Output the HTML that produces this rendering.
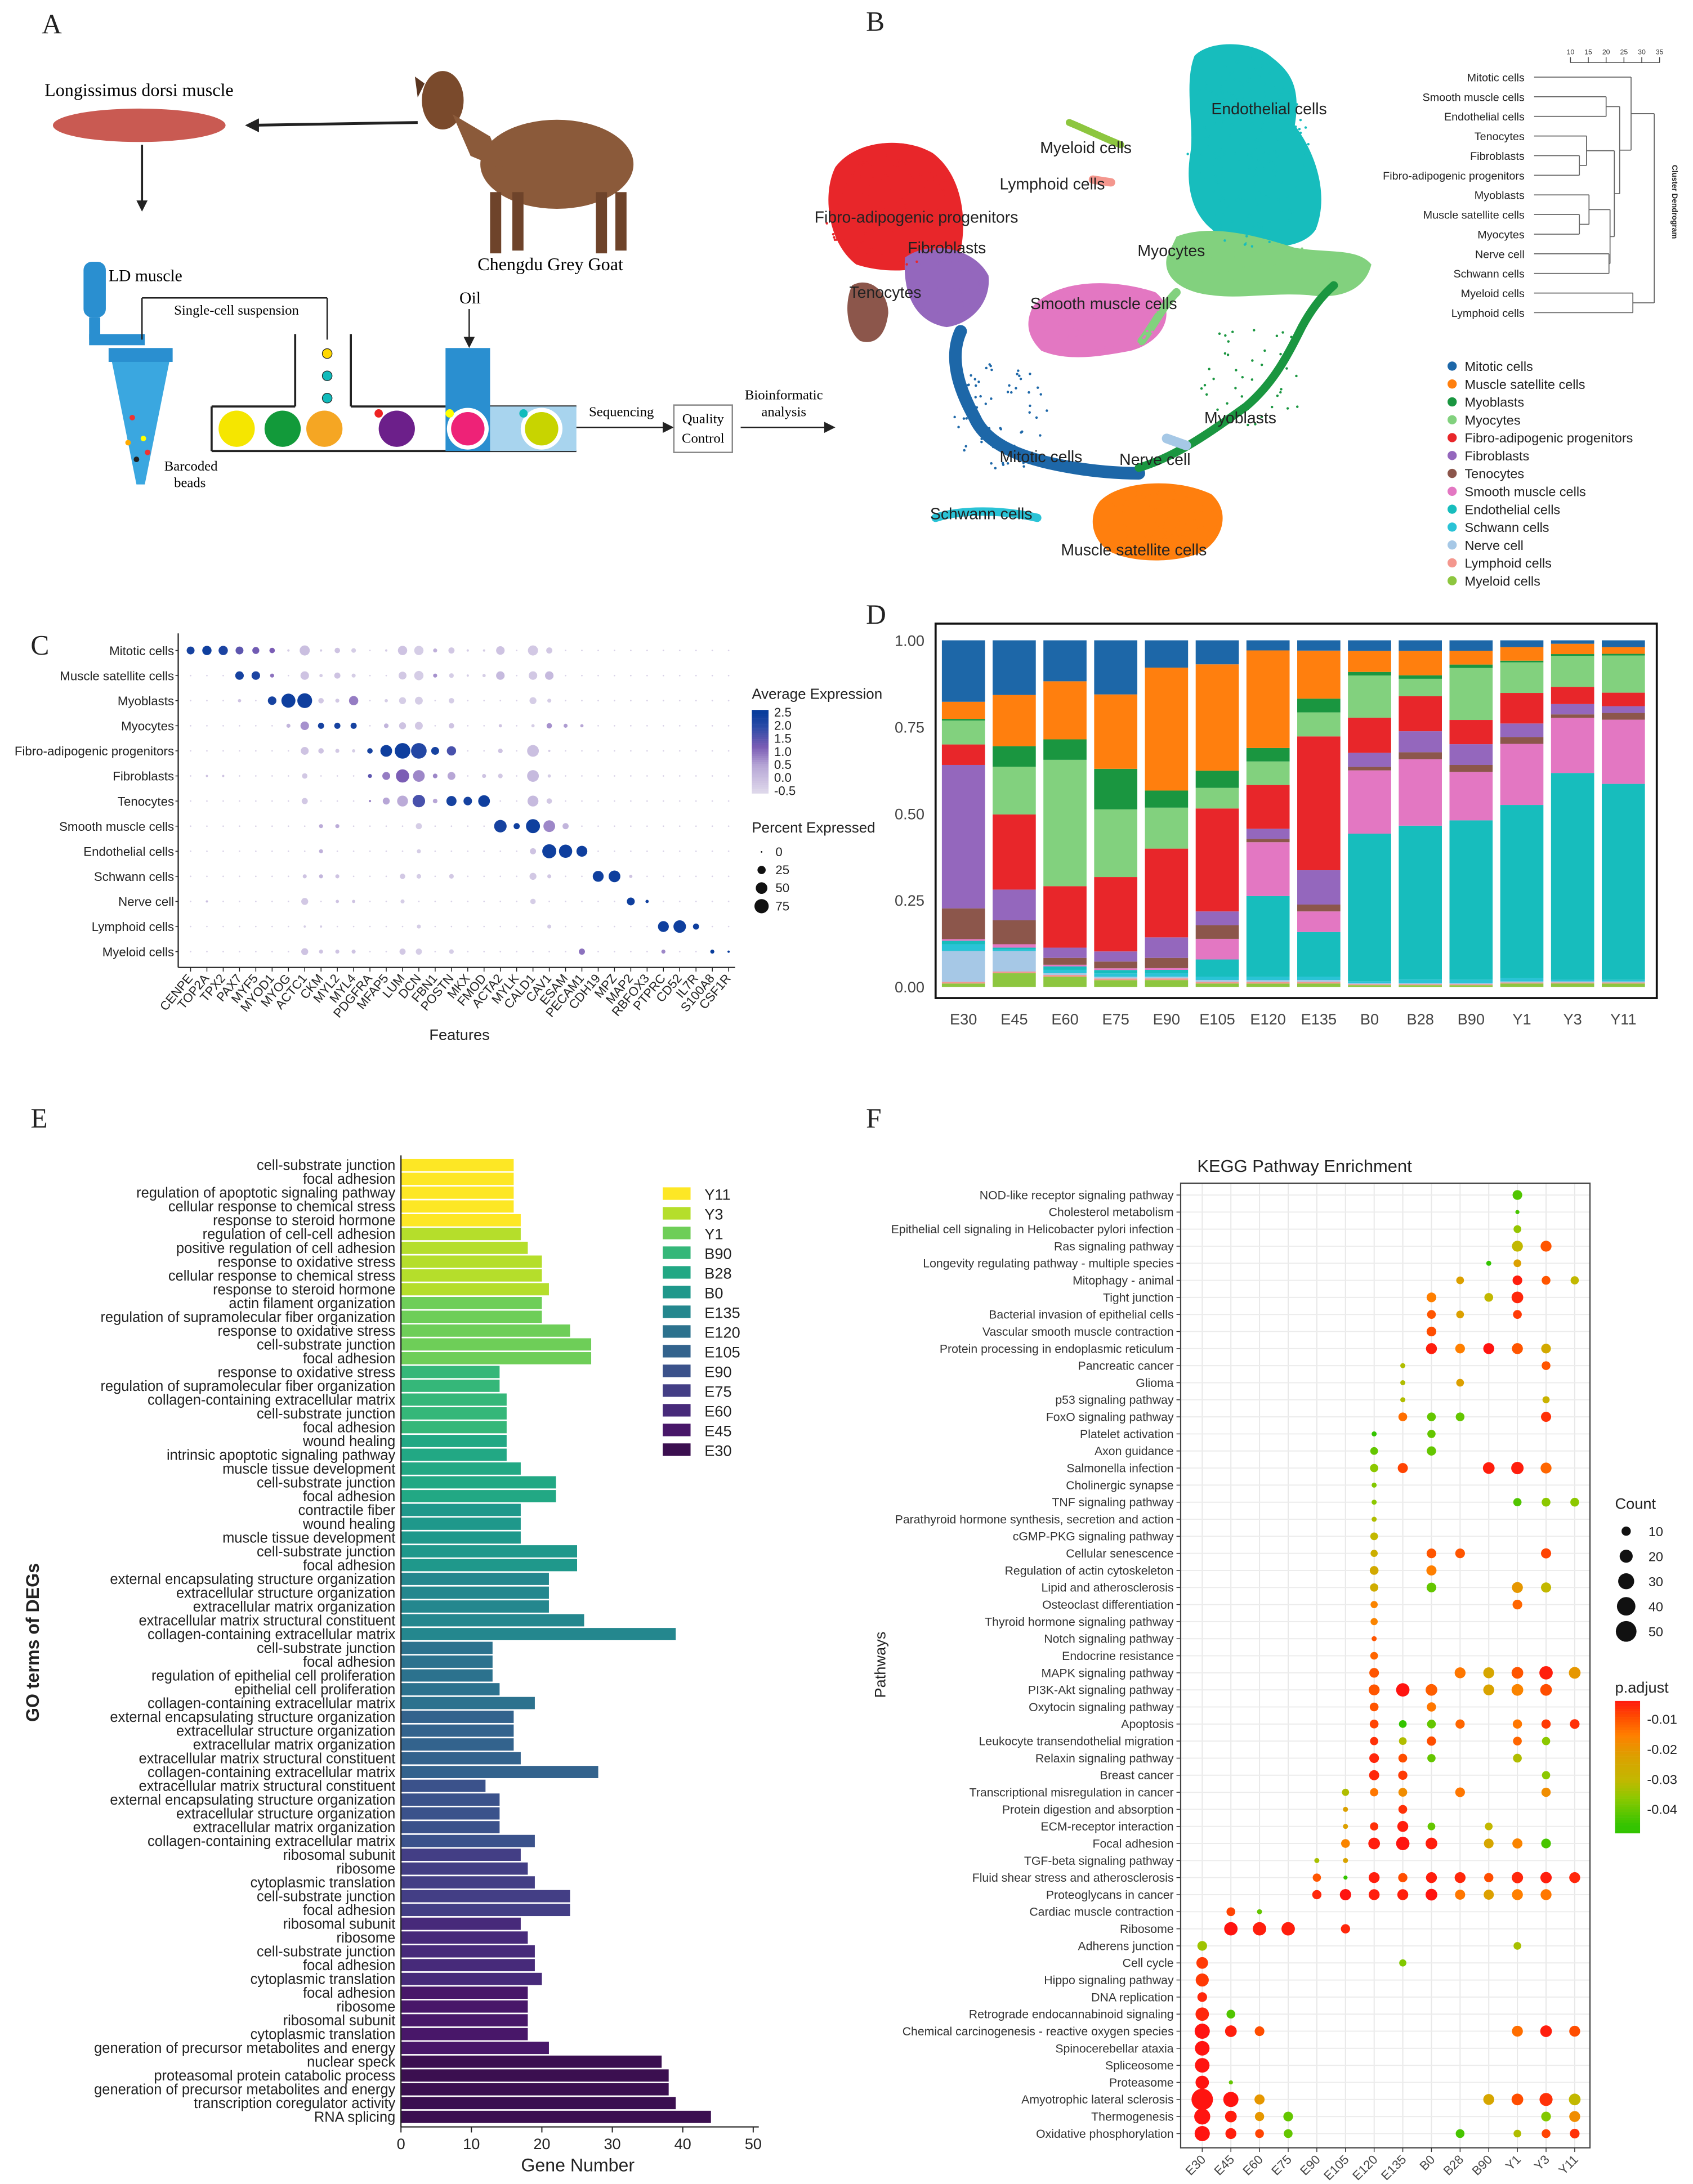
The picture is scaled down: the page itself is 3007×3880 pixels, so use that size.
<!DOCTYPE html>
<html><head><meta charset="utf-8">
<style>
html,body{margin:0;padding:0;background:#fff;}
svg{display:block;}
text{font-family:"Liberation Sans",sans-serif;}
</style></head>
<body>
<svg id="fig" xmlns="http://www.w3.org/2000/svg" width="3007" height="3880" viewBox="0 0 1216 1569">
<rect x="0" y="0" width="1216" height="1569" fill="#fff"/>
<g font-family="Liberation Serif,serif" font-size="20" fill="#222">
<text x="30" y="24" style="font-family:'Liberation Serif',serif">A</text>
<text x="622" y="22" style="font-family:'Liberation Serif',serif">B</text>
<text x="22" y="470" style="font-family:'Liberation Serif',serif">C</text>
<text x="622" y="448" style="font-family:'Liberation Serif',serif">D</text>
<text x="22" y="810" style="font-family:'Liberation Serif',serif">E</text>
<text x="622" y="810" style="font-family:'Liberation Serif',serif">F</text>
</g>
<g>
<text x="32" y="69" font-size="13" style="font-family:'Liberation Serif',serif">Longissimus dorsi muscle</text>
<ellipse cx="100" cy="90" rx="62" ry="12" fill="#c95a52"/>
<line x1="300" y1="88" x2="178" y2="90" stroke="#222" stroke-width="2"/>
<polygon points="176,90 186,85 186,95" fill="#222"/>
<line x1="102" y1="104" x2="102" y2="146" stroke="#222" stroke-width="1.5"/>
<polygon points="102,152 98,144 106,144" fill="#222"/>
<g>
<ellipse cx="400" cy="118" rx="55" ry="32" fill="#8b5a3a"/>
<ellipse cx="318" cy="72" rx="15" ry="21" fill="#7a4a2c"/>
<polygon points="325,82 352,98 362,122 338,112" fill="#8b5a3a"/>
<rect x="352" y="138" width="8" height="44" fill="#6e432a"/>
<rect x="368" y="138" width="8" height="42" fill="#6e432a"/>
<rect x="428" y="138" width="8" height="44" fill="#6e432a"/>
<rect x="442" y="138" width="8" height="42" fill="#6e432a"/>
<polygon points="305,60 298,55 300,70" fill="#5a3520"/>
</g>
<text x="343" y="194" font-size="13" style="font-family:'Liberation Serif',serif">Chengdu Grey Goat</text>
<text x="78" y="202" font-size="12" style="font-family:'Liberation Serif',serif">LD muscle</text>
<rect x="60" y="188" width="16" height="40" rx="6" fill="#2a8fd0"/>
<rect x="64" y="228" width="8" height="16" fill="#2a8fd0"/>
<rect x="64" y="240" width="40" height="8" fill="#2a8fd0"/>
<polygon points="80,258 122,258 104,348 98,348" fill="#3aa7e0"/>
<rect x="78" y="250" width="46" height="10" fill="#2a8fd0"/>
<circle cx="95" cy="300" r="2" fill="#e33"/><circle cx="103" cy="315" r="2" fill="#ff0"/><circle cx="98" cy="330" r="2" fill="#222"/><circle cx="106" cy="325" r="2" fill="#e33"/><circle cx="92" cy="318" r="2" fill="#fa0"/>
<line x1="102" y1="214" x2="102" y2="244" stroke="#222"/>
<line x1="102" y1="214" x2="235" y2="214" stroke="#222"/>
<line x1="235" y1="214" x2="235" y2="244" stroke="#222"/>
<text x="125" y="226" font-size="10" style="font-family:'Liberation Serif',serif">Single-cell suspension</text>
<circle cx="235" cy="254" r="3.5" fill="#ffd700" stroke="#222" stroke-width="0.5"/>
<circle cx="235" cy="270" r="3.5" fill="#1bb" stroke="#222" stroke-width="0.5"/>
<circle cx="235" cy="286" r="3.5" fill="#1bb" stroke="#222" stroke-width="0.5"/>
<line x1="152" y1="292" x2="212" y2="292" stroke="#222" stroke-width="1.5"/>
<line x1="212" y1="240" x2="212" y2="292" stroke="#222" stroke-width="1.5"/>
<line x1="252" y1="240" x2="252" y2="292" stroke="#222" stroke-width="1.5"/>
<line x1="252" y1="292" x2="414" y2="292" stroke="#222" stroke-width="1.5"/>
<line x1="152" y1="324" x2="414" y2="324" stroke="#222" stroke-width="1.5"/>
<line x1="152" y1="292" x2="152" y2="324" stroke="#222" stroke-width="1.5"/>
<rect x="320" y="250" width="32" height="74" fill="#2a8fd0"/>
<rect x="352" y="292" width="62" height="32" fill="#a8d4ee"/>
<text x="330" y="218" font-size="12" style="font-family:'Liberation Serif',serif">Oil</text>
<line x1="337" y1="222" x2="337" y2="244" stroke="#222"/>
<polygon points="337,250 333,242 341,242" fill="#222"/>
<circle cx="170" cy="308" r="13" fill="#f5e600"/>
<circle cx="203" cy="308" r="13" fill="#129a3a"/>
<circle cx="233" cy="308" r="13" fill="#f5a623"/>
<circle cx="285" cy="308" r="13" fill="#6c1f8a"/>
<circle cx="336" cy="308" r="15" fill="#fff"/><circle cx="336" cy="308" r="12" fill="#ee2277"/>
<circle cx="389" cy="308" r="15" fill="#fff"/><circle cx="389" cy="308" r="12" fill="#c8d400"/>
<circle cx="272" cy="297" r="3" fill="#e22"/><circle cx="323" cy="297" r="3" fill="#ff0"/><circle cx="376" cy="297" r="3" fill="#1bb"/>
<text x="118" y="338" font-size="10" style="font-family:'Liberation Serif',serif">Barcoded</text>
<text x="125" y="350" font-size="10" style="font-family:'Liberation Serif',serif">beads</text>
<line x1="414" y1="307" x2="478" y2="307" stroke="#222"/><polygon points="484,307 476,303 476,311" fill="#222"/>
<text x="423" y="299" font-size="10" style="font-family:'Liberation Serif',serif">Sequencing</text>
<rect x="484" y="291" width="42" height="34" fill="#fff" stroke="#888"/>
<text x="505" y="304" font-size="10" text-anchor="middle" style="font-family:'Liberation Serif',serif">Quality</text>
<text x="505" y="318" font-size="10" text-anchor="middle" style="font-family:'Liberation Serif',serif">Control</text>
<line x1="532" y1="307" x2="594" y2="307" stroke="#222"/><polygon points="600,307 592,303 592,311" fill="#222"/>
<text x="563" y="287" font-size="10" text-anchor="middle" style="font-family:'Liberation Serif',serif">Bioinformatic</text>
<text x="563" y="299" font-size="10" text-anchor="middle" style="font-family:'Liberation Serif',serif">analysis</text>
</g>
<g id="umap"></g>
<g id="dendro"></g>
<g id="umapLegend"></g>
<g id="panelC"></g>
<g id="panelD"></g>
<g id="panelE"></g>
<g id="panelF"></g>
</svg>
<script>
const cellTypes = ["Mitotic cells","Muscle satellite cells","Myoblasts","Myocytes","Fibro-adipogenic progenitors","Fibroblasts","Tenocytes","Smooth muscle cells","Endothelial cells","Schwann cells","Nerve cell","Lymphoid cells","Myeloid cells"];
const cellColors = ["#1d67a8","#ff7f0e","#1a9640","#82d17e","#e8262a","#9467bd","#8c564b","#e377c2","#17bdbd","#2ac3d6","#a6c8e6","#f4978e","#8dc63f"];

const features = ["CENPE","TOP2A","TPX2","PAX7","MYF5","MYOD1","MYOG","ACTC1","CKM","MYL2","MYL4","PDGFRA","MFAP5","LUM","DCN","FBN1","POSTN","MKX","FMOD","ACTA2","MYLK","CALD1","CAV1","ESAM","PECAM1","CDH19","MPZ","MAP2","RBFOX3","PTPRC","CD52","IL7R","S100A8","CSF1R"];
const dotMitotic = [[0,23,2.3],[1,32,2.4],[2,32,2.2],[3,23,1.5],[4,18,1.3],[5,11,1.2],[6,2,-0.3],[7,38,0],[8,2,-0.3],[9,11,-0.1],[10,8,-0.3],[12,2,-0.3],[13,32,-0.1],[14,32,-0.3],[15,6,0.3],[16,14,-0.2],[17,2,-0.3],[18,2,-0.3],[19,27,-0.1],[21,38,-0.2],[22,14,-0.2]];
const dotSatellite = [[3,27,2.3],[4,27,2.2],[5,6,1.0],[7,27,-0.1],[8,4,-0.3],[9,14,-0.1],[10,6,-0.3],[13,23,-0.2],[14,32,-0.3],[15,6,0.7],[16,8,-0.3],[17,2,-0.3],[18,4,-0.3],[19,27,0.1],[21,27,-0.2],[22,27,0.1]];
const dotMyoblasts = [[3,4,-0.1],[5,27,2.3],[6,73,2.4],[7,81,2.4],[8,11,-0.2],[9,6,-0.2],[10,32,0.9],[12,4,-0.3],[13,18,-0.3],[14,23,-0.3],[16,11,-0.3],[21,18,-0.3],[22,6,-0.3]];
const dotMyocytes = [[6,6,0.2],[7,27,0.7],[8,14,2.3],[9,14,2.3],[10,14,2.3],[12,8,0.2],[13,18,-0.1],[14,23,-0.2],[16,11,-0.1],[19,4,-0.1],[21,4,-0.3],[22,11,0.7],[23,6,0.6],[24,4,0.5]];
const dotFAP = [[7,23,-0.1],[8,11,-0.1],[9,6,-0.2],[10,4,-0.3],[11,11,2.3],[12,51,2.4],[13,90,2.4],[14,90,2.1],[15,23,2.3],[16,32,1.7],[19,8,-0.1],[21,51,0],[22,2,-0.3]];
const dotFibroblasts = [[1,2,-0.1],[2,2,-0.1],[7,11,-0.2],[11,6,1.5],[12,23,0.9],[13,65,1.2],[14,51,0.8],[15,8,0.8],[16,23,0.5],[18,6,-0.1],[19,8,-0.2],[21,51,0.1],[22,4,-0.3]];
const dotTenocytes = [[7,14,-0.2],[11,2,0.8],[12,18,0.5],[13,44,0.4],[14,58,1.7],[15,8,0.5],[16,38,2.3],[17,27,2.3],[18,51,2.4],[21,44,0.1],[22,11,-0.2]];
const dotSmooth = [[8,6,0.4],[9,6,0.4],[14,14,-0.3],[19,58,2.3],[20,14,2.4],[21,73,2.4],[22,51,0.8],[23,14,0.2]];
const dotEndothelial = [[8,6,0.3],[14,6,-0.3],[21,14,-0.1],[22,73,2.4],[23,65,2.4],[24,44,2.4]];
const dotSchwann = [[7,6,-0.1],[8,6,0.2],[9,6,-0.1],[13,11,-0.2],[14,8,-0.3],[16,8,-0.2],[21,18,-0.2],[22,6,-0.2],[25,44,2.4],[26,51,2.4],[27,4,-0.1]];
const dotNerve = [[1,2,0],[7,18,-0.2],[9,4,-0.1],[10,4,-0.1],[13,6,-0.3],[21,11,-0.3],[27,23,2.4],[28,4,2.4]];
const dotLymphoid = [[7,2,-0.3],[8,2,-0.3],[14,6,-0.3],[22,6,-0.3],[29,44,2.4],[30,58,2.4],[31,14,2.4]];
const dotMyeloid = [[7,18,-0.1],[8,6,-0.1],[9,6,-0.1],[10,6,-0.1],[13,14,-0.2],[14,14,-0.3],[16,8,-0.3],[24,14,1.0],[29,6,0.8],[32,6,2.5],[33,2,2.5]];
const dotRows = [dotMitotic,dotSatellite,dotMyoblasts,dotMyocytes,dotFAP,dotFibroblasts,dotTenocytes,dotSmooth,dotEndothelial,dotSchwann,dotNerve,dotLymphoid,dotMyeloid];
const expTicks = [2.5,2.0,1.5,1.0,0.5,0,-0.5];
const pctTicks = [0,25,50,75];

const stages = ["E30","E45","E60","E75","E90","E105","E120","E135","B0","B28","B90","Y1","Y3","Y11"];
const propMyeloid = [.01,.04,.03,.02,.02,.01,.01,.01,.005,.005,.005,.01,.01,.01];
const propLymphoid = [.005,.005,.005,.005,.005,.005,.005,.005,.003,.003,.003,.003,.003,.003];
const propNerve = [.09,.06,.005,.005,.005,.005,.005,.005,.003,.003,.003,.003,.003,.003];
const propSchwann = [.02,.005,.01,.01,.01,.01,.01,.01,.005,.01,.01,.01,.005,.005];
const propEndothelial = [.01,.005,.01,.01,.01,.05,.24,.13,.42,.44,.46,.51,.6,.58];
const propSmooth = [.005,.01,.005,.005,.005,.06,.16,.06,.18,.19,.14,.18,.16,.19];
const propTenocytes = [.09,.07,.02,.02,.03,.04,.01,.02,.01,.02,.02,.02,.01,.02];
const propFibroblasts = [.42,.09,.03,.03,.06,.04,.03,.1,.04,.06,.06,.04,.03,.02];
const propFAP = [.06,.22,.18,.22,.26,.3,.13,.39,.1,.1,.07,.09,.05,.04];
const propMyocytes = [.07,.14,.37,.2,.12,.06,.07,.07,.12,.05,.15,.09,.09,.11];
const propMyoblasts = [.005,.06,.06,.12,.05,.05,.04,.04,.01,.01,.01,.005,.005,.005];
const propSatellite = [.05,.15,.17,.22,.36,.31,.29,.14,.06,.07,.04,.04,.03,.02];
const propMitotic = [.18,.16,.12,.16,.08,.07,.03,.03,.03,.03,.03,.02,.01,.02];
const yTicksD = ["0.00","0.25","0.50","0.75","1.00"];

const goGroups = ["Y11","Y3","Y1","B90","B28","B0","E135","E120","E105","E90","E75","E60","E45","E30"];
const goColors = ["#fde725","#b5de2b","#6ece58","#35b779","#22a884","#1f988b","#24878e","#2c728e","#33638d","#3b528b","#433e85","#472a7a","#481769","#3b0f50"];
const goTerms = ["cell-substrate junction","focal adhesion","regulation of apoptotic signaling pathway","cellular response to chemical stress","response to steroid hormone",
"regulation of cell-cell adhesion","positive regulation of cell adhesion","response to oxidative stress","cellular response to chemical stress","response to steroid hormone",
"actin filament organization","regulation of supramolecular fiber organization","response to oxidative stress","cell-substrate junction","focal adhesion",
"response to oxidative stress","regulation of supramolecular fiber organization","collagen-containing extracellular matrix","cell-substrate junction","focal adhesion",
"wound healing","intrinsic apoptotic signaling pathway","muscle tissue development","cell-substrate junction","focal adhesion",
"contractile fiber","wound healing","muscle tissue development","cell-substrate junction","focal adhesion",
"external encapsulating structure organization","extracellular structure organization","extracellular matrix organization","extracellular matrix structural constituent","collagen-containing extracellular matrix",
"cell-substrate junction","focal adhesion","regulation of epithelial cell proliferation","epithelial cell proliferation","collagen-containing extracellular matrix",
"external encapsulating structure organization","extracellular structure organization","extracellular matrix organization","extracellular matrix structural constituent","collagen-containing extracellular matrix",
"extracellular matrix structural constituent","external encapsulating structure organization","extracellular structure organization","extracellular matrix organization","collagen-containing extracellular matrix",
"ribosomal subunit","ribosome","cytoplasmic translation","cell-substrate junction","focal adhesion",
"ribosomal subunit","ribosome","cell-substrate junction","focal adhesion","cytoplasmic translation",
"focal adhesion","ribosome","ribosomal subunit","cytoplasmic translation","generation of precursor metabolites and energy",
"nuclear speck","proteasomal protein catabolic process","generation of precursor metabolites and energy","transcription coregulator activity","RNA splicing"];
const goCounts = [16,16,16,16,17, 17,18,20,20,21, 20,20,24,27,27, 14,14,15,15,15, 15,15,17,22,22, 17,17,17,25,25, 21,21,21,26,39, 13,13,13,14,19, 16,16,16,17,28, 12,14,14,14,19, 17,18,19,24,24, 17,18,19,19,20, 18,18,18,18,21, 37,38,38,39,44];
const xTicksE = [0,10,20,30,40,50];

const pathways = ["NOD-like receptor signaling pathway","Cholesterol metabolism","Epithelial cell signaling in Helicobacter pylori infection","Ras signaling pathway","Longevity regulating pathway - multiple species","Mitophagy - animal","Tight junction","Bacterial invasion of epithelial cells","Vascular smooth muscle contraction","Protein processing in endoplasmic reticulum","Pancreatic cancer","Glioma","p53 signaling pathway","FoxO signaling pathway","Platelet activation","Axon guidance","Salmonella infection","Cholinergic synapse","TNF signaling pathway","Parathyroid hormone synthesis, secretion and action","cGMP-PKG signaling pathway","Cellular senescence","Regulation of actin cytoskeleton","Lipid and atherosclerosis","Osteoclast differentiation","Thyroid hormone signaling pathway","Notch signaling pathway","Endocrine resistance","MAPK signaling pathway","PI3K-Akt signaling pathway","Oxytocin signaling pathway","Apoptosis","Leukocyte transendothelial migration","Relaxin signaling pathway","Breast cancer","Transcriptional misregulation in cancer","Protein digestion and absorption","ECM-receptor interaction","Focal adhesion","TGF-beta signaling pathway","Fluid shear stress and atherosclerosis","Proteoglycans in cancer","Cardiac muscle contraction","Ribosome","Adherens junction","Cell cycle","Hippo signaling pathway","DNA replication","Retrograde endocannabinoid signaling","Chemical carcinogenesis - reactive oxygen species","Spinocerebellar ataxia","Spliceosome","Proteasome","Amyotrophic lateral sclerosis","Thermogenesis","Oxidative phosphorylation"];
const keggDots = [
[0,11,11,-0.042],[1,11,2,-0.043],[2,11,7,-0.035],[3,11,14,-0.03],[3,12,14,-0.01],[4,10,3,-0.045],[4,11,7,-0.022],
[5,9,7,-0.022],[5,11,11,-0.004],[5,12,9,-0.01],[5,13,8,-0.03],[6,8,11,-0.015],[6,10,9,-0.03],[6,11,16,-0.005],
[7,8,9,-0.01],[7,9,7,-0.022],[7,11,9,-0.007],[8,8,11,-0.009],[9,8,14,-0.004],[9,9,11,-0.015],[9,10,14,-0.003],[9,11,14,-0.01],[9,12,11,-0.025],
[10,7,3,-0.032],[10,12,9,-0.01],[11,7,3,-0.032],[11,9,7,-0.022],[12,7,3,-0.032],[12,12,6,-0.028],
[13,7,9,-0.013],[13,8,9,-0.04],[13,9,9,-0.04],[13,12,12,-0.006],[14,6,3,-0.045],[14,8,8,-0.04],[15,6,7,-0.04],[15,8,10,-0.04],
[16,6,8,-0.036],[16,7,12,-0.008],[16,10,16,-0.004],[16,11,18,-0.004],[16,12,14,-0.012],[17,6,3,-0.037],
[18,6,3,-0.036],[18,11,8,-0.042],[18,12,9,-0.036],[18,13,9,-0.036],[19,6,3,-0.032],[20,6,7,-0.03],
[21,6,6,-0.027],[21,8,11,-0.01],[21,9,11,-0.01],[21,12,12,-0.008],[22,6,9,-0.025],[22,8,12,-0.015],
[23,6,8,-0.026],[23,8,11,-0.04],[23,11,14,-0.02],[23,12,12,-0.03],[24,6,6,-0.016],[24,11,11,-0.012],
[25,6,6,-0.016],[26,6,3,-0.01],[27,6,7,-0.012],
[28,6,11,-0.01],[28,9,14,-0.014],[28,10,14,-0.024],[28,11,16,-0.01],[28,12,21,-0.004],[28,13,16,-0.02],
[29,6,14,-0.01],[29,7,21,-0.003],[29,8,16,-0.011],[29,10,14,-0.023],[29,11,16,-0.016],[29,12,16,-0.009],
[30,6,9,-0.01],[30,8,10,-0.014],
[31,6,9,-0.008],[31,7,7,-0.045],[31,8,9,-0.04],[31,9,10,-0.012],[31,11,10,-0.014],[31,12,10,-0.007],[31,13,11,-0.006],
[32,6,8,-0.006],[32,7,7,-0.032],[32,8,10,-0.009],[32,11,9,-0.012],[32,12,8,-0.036],
[33,6,11,-0.005],[33,7,9,-0.009],[33,8,8,-0.04],[33,11,9,-0.032],[34,6,12,-0.005],[34,7,10,-0.007],[34,12,8,-0.036],
[35,5,6,-0.032],[35,6,8,-0.014],[35,7,9,-0.018],[35,9,11,-0.014],[35,12,10,-0.018],
[36,5,3,-0.022],[36,7,9,-0.006],[37,5,3,-0.022],[37,6,8,-0.006],[37,7,14,-0.004],[37,8,7,-0.04],[37,10,7,-0.03],
[38,5,9,-0.016],[38,6,16,-0.004],[38,7,21,-0.003],[38,8,16,-0.004],[38,10,11,-0.024],[38,11,12,-0.016],[38,12,11,-0.043],
[39,4,3,-0.033],[39,5,3,-0.023],
[40,4,8,-0.01],[40,5,2,-0.045],[40,6,14,-0.004],[40,7,10,-0.009],[40,8,14,-0.004],[40,9,14,-0.005],[40,10,10,-0.009],[40,11,15,-0.005],[40,12,15,-0.004],[40,13,14,-0.005],
[41,4,10,-0.005],[41,5,15,-0.003],[41,6,14,-0.004],[41,7,14,-0.004],[41,8,16,-0.003],[41,9,12,-0.014],[41,10,12,-0.022],[41,11,14,-0.015],[41,12,14,-0.014],
[42,1,9,-0.008],[42,2,3,-0.04],[43,1,21,-0.003],[43,2,21,-0.004],[43,3,21,-0.004],[43,5,10,-0.005],
[44,0,11,-0.034],[44,11,7,-0.033],[45,0,16,-0.007],[45,7,6,-0.037],[46,0,20,-0.007],[47,0,11,-0.005],
[48,0,21,-0.005],[48,1,9,-0.042],
[49,0,27,-0.003],[49,1,16,-0.004],[49,2,11,-0.009],[49,11,14,-0.013],[49,12,16,-0.004],[49,13,14,-0.009],
[50,0,25,-0.003],[51,0,25,-0.003],[52,0,21,-0.003],[52,1,2,-0.04],
[53,0,54,-0.002],[53,1,27,-0.003],[53,2,12,-0.02],[53,10,14,-0.024],[53,11,16,-0.009],[53,12,20,-0.006],[53,13,16,-0.03],
[54,0,30,-0.003],[54,1,16,-0.004],[54,2,10,-0.02],[54,3,11,-0.04],[54,12,11,-0.037],[54,13,14,-0.018],
[55,0,27,-0.003],[55,1,14,-0.004],[55,2,9,-0.008],[55,3,9,-0.04],[55,9,9,-0.043],[55,11,7,-0.032],[55,12,9,-0.008],[55,13,11,-0.006]
];
const countTicks = [10,20,30,40,50];
const padjTicks = [-0.01,-0.02,-0.03,-0.04];

const dendroLeaves = ["Mitotic cells","Smooth muscle cells","Endothelial cells","Tenocytes","Fibroblasts","Fibro-adipogenic progenitors","Myoblasts","Muscle satellite cells","Myocytes","Nerve cell","Schwann cells","Myeloid cells","Lymphoid cells"];
const dendroScale = [10,15,20,25,30,35];
const dendroMerges = [[4,5,12.5],[7,8,12.5],[3,13,14.5],[6,14,15.2],[1,2,20.0],[9,10,20.8],[16,18,21.1],[15,19,22.3],[17,20,23.8],[0,21,27.0],[11,12,27.5],[22,23,33.5]];

const NS = "http://www.w3.org/2000/svg";
function mk(parent, tag, attrs, txt){
  const e = document.createElementNS(NS, tag);
  for (const k in attrs) e.setAttribute(k, attrs[k]);
  if (txt !== undefined) e.textContent = txt;
  parent.appendChild(e);
  return e;
}
function lerpHex(a,b,t){
  const pa=[1,3,5].map(i=>parseInt(a.substr(i,2),16)), pb=[1,3,5].map(i=>parseInt(b.substr(i,2),16));
  return "rgb("+pa.map((v,i)=>Math.round(v+(pb[i]-v)*t)).join(",")+")";
}
function scaleColor(stops, v){
  if (v<=stops[0][0]) return stops[0][1];
  for (let i=1;i<stops.length;i++){
    if (v<=stops[i][0]){const t=(v-stops[i-1][0])/(stops[i][0]-stops[i-1][0]);return lerpHex(stops[i-1][1],stops[i][1],t);}
  }
  return stops[stops.length-1][1];
}

// ---------- Panel B: UMAP ----------
(function(){
  const g = document.getElementById("umap");
  // filled regions: [colorIdx, path]
  const regions = [
    [8,"M858,40 C870,28 900,30 912,40 C925,50 935,60 930,90 C945,110 955,140 945,165 C935,180 905,180 885,172 C860,165 850,140 855,110 C858,90 850,60 858,40 Z"],
    [3,"M845,170 C870,160 905,170 930,178 C955,182 975,178 985,190 C980,210 960,215 940,212 C915,210 890,215 870,212 C850,210 835,200 838,185 Z"],
    [4,"M600,120 C615,100 650,98 670,110 C690,125 695,155 690,180 C670,195 640,198 615,190 C595,175 590,140 600,120 Z"],
    [5,"M650,185 C668,172 700,178 710,198 C712,215 700,232 680,235 C660,232 648,215 650,185 Z"],
    [6,"M612,205 C625,198 638,210 638,225 C636,242 628,248 618,245 C608,238 606,218 612,205 Z"],
    [7,"M742,220 C760,200 800,200 830,210 C845,222 838,245 812,252 C790,256 768,260 748,252 C738,242 736,232 742,220 Z"],
    [1,"M790,360 C805,345 845,343 870,355 C885,368 878,390 860,398 C840,405 810,404 795,395 C783,385 782,370 790,360 Z"]
  ];
  regions.forEach(r=>{
    const p = mk(g,"path",{d:r[1],fill:cellColors[r[0]]});
    
    
  });
  // trajectories drawn as thick strokes: [colorIdx, path, width]
  const streams = [
    [0,"M690,238 C680,260 692,285 700,300 C708,318 730,328 760,334 C780,338 800,340 818,340",9],
    [2,"M818,336 C845,328 870,310 895,292 C915,275 925,255 935,235 C942,222 950,212 958,205",6],
    [9,"M672,372 C690,366 720,366 745,372",6],
    [12,"M768,88 C778,92 790,98 805,104",5],
    [11,"M785,129 L798,131",6],
    [10,"M838,315 L852,320",7],
    [3,"M845,210 C835,220 830,232 820,245",6]
  ];
  streams.forEach(s=>{
    const p = mk(g,"path",{d:s[1],fill:"none",stroke:cellColors[s[0]],"stroke-width":s[2],"stroke-linecap":"round"});
    
    
  });
  // scattered texture points
  let seed = 7;
  const rnd = () => { seed = (seed*16807)%2147483647; return seed/2147483647; };
  const clouds = [[8,895,110,45,70,250],[3,900,192,60,18,120],[4,640,150,48,42,180],[7,790,230,45,22,90],[1,832,375,45,25,120],[0,720,300,35,40,60],[5,680,205,28,25,50],[2,900,270,40,40,40]];
  clouds.forEach(c=>{
    for (let k=0;k<c[5];k++){
      const a = rnd()*Math.PI*2, d = Math.sqrt(rnd());
      const cx = c[1]+Math.cos(a)*d*c[3], cy = c[2]+Math.sin(a)*d*c[4];
      const e = mk(g,"circle",{cx:cx.toFixed(1),cy:cy.toFixed(1),r:0.9,fill:cellColors[c[0]]});
      
      
    }
  });
  const labels = [["Endothelial cells",870,82],["Myeloid cells",747,110],["Lymphoid cells",718,136],["Fibro-adipogenic progenitors",585,160],["Fibroblasts",652,182],["Myocytes",817,184],["Tenocytes",610,214],["Smooth muscle cells",740,222],["Myoblasts",865,304],["Mitotic cells",718,332],["Nerve cell",804,334],["Schwann cells",668,373],["Muscle satellite cells",762,399]];
  labels.forEach(l=>{
    const t = mk(g,"text",{x:l[1],y:l[2],"font-size":11.5,fill:"#222"},l[0]);
    
    
  });
  const lg = document.getElementById("umapLegend");
  cellTypes.forEach((c,i)=>{
    const y = 263 + i*12.85;
    const d = mk(lg,"circle",{cx:1043,cy:y,r:3.3,fill:cellColors[i]});
    
    
    const t = mk(lg,"text",{x:1052,y:y+3.5,"font-size":9.5,fill:"#222"},c);
    
    
  });
})();

// ---------- Dendrogram ----------
(function(){
  const g = document.getElementById("dendro");
  const x = v => 1128 + (v-10)*2.56;
  const y = i => 55.4 + i*14.1;
  dendroLeaves.forEach((n,i)=>{
    const t = mk(g,"text",{x:1095,y:y(i)+3,"font-size":8,"text-anchor":"end",fill:"#222"},n);
    
    
  });
  mk(g,"line",{x1:x(10),y1:45,x2:x(35),y2:45,stroke:"#444","stroke-width":0.6});
  dendroScale.forEach(v=>{
    mk(g,"line",{x1:x(v),y1:45,x2:x(v),y2:41,stroke:"#444","stroke-width":0.6});
    const t = mk(g,"text",{x:x(v),y:39,"font-size":5,"text-anchor":"middle",fill:"#333"},v);
    
    
  });
  const pos = dendroLeaves.map((n,i)=>({y:y(i),h:0}));
  dendroMerges.forEach(m=>{
    const a=pos[m[0]], b=pos[m[1]], h=m[2];
    const s = "#666";
    mk(g,"line",{x1:x(a.h===0?-0.2:a.h),y1:a.y,x2:x(h),y2:a.y,stroke:s,"stroke-width":0.7});
    mk(g,"line",{x1:x(b.h===0?-0.2:b.h),y1:b.y,x2:x(h),y2:b.y,stroke:s,"stroke-width":0.7});
    const l = mk(g,"line",{x1:x(h),y1:a.y,x2:x(h),y2:b.y,stroke:s,"stroke-width":0.7});
    
    
    pos.push({y:(a.y+b.y)/2,h:h});
  });
  const t = mk(g,"text",{x:1201,y:145,"font-size":5.5,"text-anchor":"middle",fill:"#222",transform:"rotate(90 1201 145)","font-weight":"bold"},"Cluster Dendrogram");
  
  
})();

// ---------- Panel C ----------
(function(){
  const g = document.getElementById("panelC");
  const cx = j => 136.9 + j*11.71;
  const cy = i => 467.3 + i*18.03;
  const rad = p => Math.max(0.55, 5.6*Math.sqrt(p/90));
  const expStops = [[-0.5,"#ddd7ea"],[0.5,"#b7a6d6"],[1.2,"#7b5db5"],[2.0,"#2a4aa6"],[2.5,"#083c9c"]];
  const ec = v => scaleColor(expStops, v);
  mk(g,"line",{x1:128,y1:455,x2:128,y2:695,stroke:"#222","stroke-width":0.9});
  mk(g,"line",{x1:128,y1:695,x2:528,y2:695,stroke:"#222","stroke-width":0.9});
  cellTypes.forEach((c,i)=>{
    const t = mk(g,"text",{x:125,y:cy(i)+3.3,"font-size":9,"text-anchor":"end",fill:"#222"},c);
    
    
    mk(g,"line",{x1:126,y1:cy(i),x2:128,y2:cy(i),stroke:"#222","stroke-width":0.6});
    const notable = {};
    dotRows[i].forEach(d=>notable[d[0]]=d);
    features.forEach((f,j)=>{
      const d = notable[j] || [j,0.8,-0.4];
      const e = mk(g,"circle",{cx:cx(j),cy:cy(i),r:rad(d[1]),fill:ec(d[2])});
      
      
    });
  });
  features.forEach((f,j)=>{
    mk(g,"line",{x1:cx(j),y1:695,x2:cx(j),y2:698,stroke:"#222","stroke-width":0.6});
    const t = mk(g,"text",{x:cx(j)+2,y:703,"font-size":9,"text-anchor":"end",fill:"#222",transform:"rotate(-50 "+(cx(j)+2)+" 703)"},f);
    
    
  });
  const ft = mk(g,"text",{x:330,y:747,"font-size":11,"text-anchor":"middle",fill:"#222"},"Features");
  
  
  const at = mk(g,"text",{x:540,y:502,"font-size":10.5,fill:"#222"},"Average Expression");
  
  
  for (let k=0;k<40;k++){
    const v = 2.6 - k*(3.2/40);
    mk(g,"rect",{x:540,y:510+k*1.5,width:12,height:1.6,fill:ec(v)});
  }
  expTicks.forEach(v=>{
    const yy = 510 + (2.6-v)/3.2*60;
    const t = mk(g,"text",{x:556,y:yy+3,"font-size":9,fill:"#222"},v===0?"0.0":v.toFixed(1));
    
    
  });
  const pt = mk(g,"text",{x:540,y:598,"font-size":10.5,fill:"#222"},"Percent Expressed");
  
  
  pctTicks.forEach((p,k)=>{
    const yy = 612 + k*13;
    mk(g,"circle",{cx:547,cy:yy,r:rad(Math.max(p,1)),fill:"#111"});
    const t = mk(g,"text",{x:557,y:yy+3,"font-size":9,fill:"#222"},p);
    
    
  });
})();

// ---------- Panel D ----------
(function(){
  const g = document.getElementById("panelD");
  const seriesBottomUp = [propMyeloid,propLymphoid,propNerve,propSchwann,propEndothelial,propSmooth,propTenocytes,propFibroblasts,propFAP,propMyocytes,propMyoblasts,propSatellite,propMitotic];
  const colorIdx = [12,11,10,9,8,7,6,5,4,3,2,1,0];
  const y = v => 709 - v*249;
  const xc = i => 692 + i*36.46;
  mk(g,"rect",{x:672,y:448,width:518,height:269,fill:"#fff",stroke:"#111","stroke-width":1.5});
  stages.forEach((s,i)=>{
    const tot = seriesBottomUp.reduce((a,arr)=>a+arr[i],0);
    let acc = 0;
    seriesBottomUp.forEach((arr,k)=>{
      const v = arr[i]/tot;
      const r = mk(g,"rect",{x:xc(i)-15.5,y:y(acc+v),width:31,height:Math.max(0,y(acc)-y(acc+v)),fill:cellColors[colorIdx[k]]});
      
      
      acc += v;
    });
    const t = mk(g,"text",{x:xc(i),y:736,"font-size":11,"text-anchor":"middle",fill:"#444"},s);
    
    
  });
  yTicksD.forEach(s=>{
    const v = parseFloat(s);
    const t = mk(g,"text",{x:664,y:y(v)+4,"font-size":11,"text-anchor":"end",fill:"#444"},s);
    
    
  });
})();

// ---------- Panel E ----------
(function(){
  const g = document.getElementById("panelE");
  const x = v => 288 + v*5.06;
  const y = i => 837 + i*9.91;
  goTerms.forEach((t,i)=>{
    const grp = Math.floor(i/5);
    const r = mk(g,"rect",{x:288,y:y(i)-4.4,width:x(goCounts[i])-288,height:8.8,fill:goColors[grp]});
    
    
    const tx = mk(g,"text",{x:284,y:y(i)+3.6,"font-size":10.3,"text-anchor":"end",fill:"#222"},t);
    
    
  });
  mk(g,"line",{x1:288,y1:830,x2:288,y2:1528,stroke:"#222","stroke-width":0.9});
  mk(g,"line",{x1:288,y1:1528,x2:545,y2:1528,stroke:"#222","stroke-width":0.9});
  xTicksE.forEach(v=>{
    mk(g,"line",{x1:x(v),y1:1528,x2:x(v),y2:1532,stroke:"#222","stroke-width":0.8});
    const t = mk(g,"text",{x:x(v),y:1544,"font-size":11,"text-anchor":"middle",fill:"#222"},v);
    
    
  });
  const xt = mk(g,"text",{x:415,y:1560,"font-size":13,"text-anchor":"middle",fill:"#222"},"Gene Number");
  
  
  const yt = mk(g,"text",{x:28,y:1180,"font-size":13,"text-anchor":"middle","font-weight":"bold",fill:"#222",transform:"rotate(-90 28 1180)"},"GO terms of DEGs");
  
  
  goGroups.forEach((s,k)=>{
    const yy = 858 + k*14.15;
    const r = mk(g,"rect",{x:476,y:yy-5,width:20,height:9,fill:goColors[k]});
    
    
    const t = mk(g,"text",{x:506,y:yy+4,"font-size":11,fill:"#222"},s);
    
    
  });
})();

// ---------- Panel F ----------
(function(){
  const g = document.getElementById("panelF");
  const x = j => 863.5 + j*20.58;
  const y = r => 858.5 + r*12.26;
  const rad = c => 1.05*Math.sqrt(c);
  const pStops = [[-0.045,"#33c400"],[-0.036,"#8cc800"],[-0.03,"#c2b800"],[-0.022,"#dca000"],[-0.015,"#ff7f00"],[-0.009,"#ff4d00"],[-0.003,"#ff1410"]];
  const pc = v => scaleColor(pStops, v);
  mk(g,"rect",{x:848,y:850,width:294,height:693,fill:"#fff"});
  stages.forEach((s,j)=>mk(g,"line",{x1:x(j),y1:850,x2:x(j),y2:1543,stroke:"#e8e8e8","stroke-width":0.8}));
  pathways.forEach((p,r)=>{
    mk(g,"line",{x1:848,y1:y(r),x2:1142,y2:y(r),stroke:"#ececec","stroke-width":0.8});
    mk(g,"line",{x1:845,y1:y(r),x2:848,y2:y(r),stroke:"#333","stroke-width":0.6});
    const t = mk(g,"text",{x:843,y:y(r)+3,"font-size":8.6,"text-anchor":"end",fill:"#333"},p);
    
    
  });
  mk(g,"rect",{x:848,y:850,width:294,height:693,fill:"none",stroke:"#444","stroke-width":0.9});
  keggDots.forEach(d=>{
    const c = mk(g,"circle",{cx:x(d[1]),cy:y(d[0]),r:rad(d[2]),fill:pc(d[3])});
    
    
  });
  stages.forEach((s,j)=>{
    mk(g,"line",{x1:x(j),y1:1543,x2:x(j),y2:1546,stroke:"#333","stroke-width":0.6});
    const t = mk(g,"text",{x:x(j)+3,y:1552,"font-size":9,"text-anchor":"end",fill:"#444",transform:"rotate(-45 "+(x(j)+3)+" 1552)"},s);
    
    
  });
  const tt = mk(g,"text",{x:937,y:842,"font-size":12.5,"text-anchor":"middle",fill:"#222"},"KEGG Pathway Enrichment");
  
  
  const yt = mk(g,"text",{x:636,y:1196,"font-size":11,"text-anchor":"middle",fill:"#222",transform:"rotate(-90 636 1196)"},"Pathways");
  
  
  const ct = mk(g,"text",{x:1160,y:1084,"font-size":11,fill:"#222"},"Count");
  
  
  countTicks.forEach((c,k)=>{
    const yy = 1100 + k*18;
    mk(g,"circle",{cx:1168,cy:yy,r:rad(c),fill:"#111"});
    const t = mk(g,"text",{x:1184,y:yy+3.5,"font-size":9.5,fill:"#222"},c);
    
    
  });
  const pt = mk(g,"text",{x:1160,y:1216,"font-size":11,fill:"#222"},"p.adjust");
  
  
  for (let k=0;k<50;k++){
    const v = -0.004 - k*(0.044/50);
    mk(g,"rect",{x:1160,y:1222+k*1.9,width:18,height:2,fill:pc(v)});
  }
  padjTicks.forEach(v=>{
    const yy = 1222 + (-0.004 - v)/0.044*95;
    const t = mk(g,"text",{x:1183,y:yy+3.5,"font-size":9.5,fill:"#222"},v.toFixed(2));
    
    
  });
})();
</script>
</body></html>
